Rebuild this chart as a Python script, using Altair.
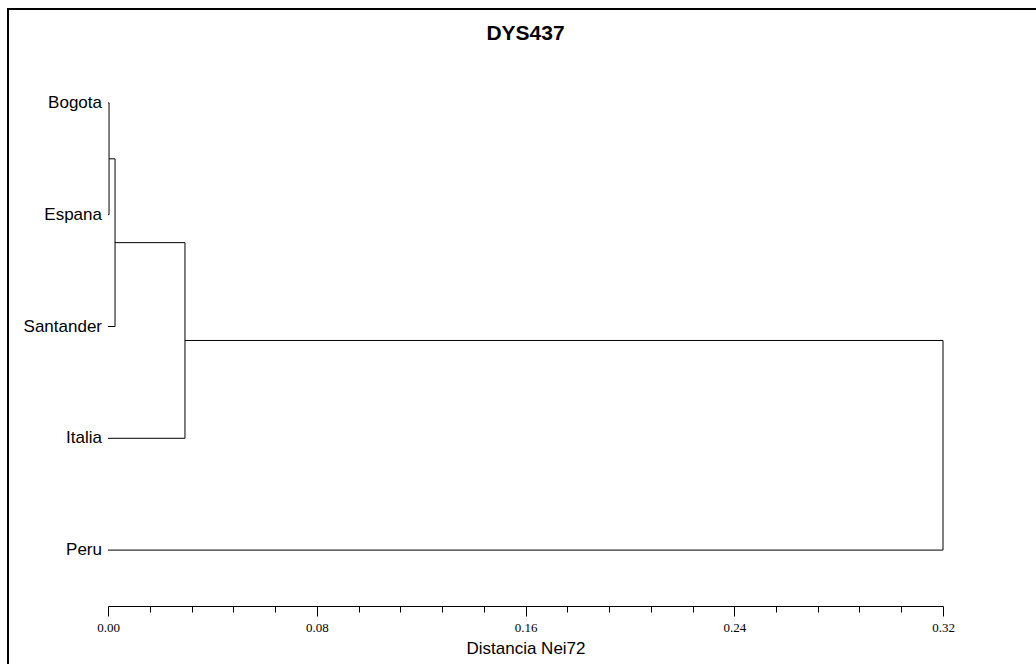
import altair as alt
import pandas as pd

# ---- data ----
title_text = "DYS437"
x_title = "Distancia Nei72"
leaves = ["Bogota", "Espana", "Santander", "Italia", "Peru"]
leaf_pos = [0, 1, 2, 3, 4]
# merges: (child a, child b, joining distance)
merge_a = ["Bogota", "N1", "N2", "N3"]
merge_b = ["Espana", "Santander", "Italia", "Peru"]
merge_h = [0.0004, 0.0027, 0.0295, 0.32]
major_ticks = [0.0, 0.08, 0.16, 0.24, 0.32]
tick_values = [round(i * 0.016, 3) for i in range(21)]

# ---- build dendrogram segments ----
node_y = {n: p for n, p in zip(leaves, leaf_pos)}
node_h = {n: 0.0 for n in leaves}
segs = []
for i, (a, b, h) in enumerate(zip(merge_a, merge_b, merge_h)):
    for c in (a, b):
        segs.append({"x": node_h[c], "x2": h, "y": node_y[c], "y2": node_y[c]})
    segs.append({"x": h, "x2": h, "y": node_y[a], "y2": node_y[b]})
    name = f"N{i+1}"
    node_y[name] = (node_y[a] + node_y[b]) / 2
    node_h[name] = h
seg_df = pd.DataFrame(segs)
leaf_df = pd.DataFrame({"name": leaves, "pos": leaf_pos, "x0": [0.0] * len(leaves)})

xscale = alt.Scale(domain=[0, 0.32], nice=False, zero=False)
yscale = alt.Scale(domain=[-0.5, 4.5], reverse=True, nice=False, zero=False)

is_major = "abs(round(datum.value/0.08)*0.08 - datum.value) < 0.000001"

xaxis = alt.Axis(
    values=tick_values,
    labelExpr=f"({is_major}) ? format(datum.value, '.2f') : ''",
    tickSize={"condition": {"test": is_major, "value": 10}, "value": 6},
    title=x_title,
    titleFont="Liberation Sans",
    titleFontSize=17,
    titleFontWeight="normal",
    titleColor="black",
    titlePadding=6,
    labelFont="Liberation Serif",
    labelFontSize=13,
    labelColor="black",
    labelPadding=5,
    labelFlush=False,
    labelOverlap=False,
    domainColor="black",
    tickColor="black",
    domainWidth=1,
    tickWidth=1,
    grid=False,
)

lines = alt.Chart(seg_df).mark_rule(color="black", strokeWidth=1).encode(
    x=alt.X("x:Q", scale=xscale, axis=xaxis),
    x2="x2:Q",
    y=alt.Y("y:Q", scale=yscale, axis=None),
    y2="y2:Q",
)

labels = alt.Chart(leaf_df).mark_text(
    align="right", baseline="middle", dx=-6, fontSize=17,
    font="Liberation Sans", color="black"
).encode(
    x=alt.X("x0:Q", scale=xscale),
    y=alt.Y("pos:Q", scale=yscale),
    text="name:N",
)

title_df = pd.DataFrame({"t": [title_text]})
title = alt.Chart(title_df).mark_text(
    align="center", baseline="alphabetic", fontSize=21, fontWeight="bold",
    font="Liberation Sans", color="black"
).encode(
    x=alt.value(417.5), y=alt.value(-7), text="t:N"
)

frame_df = pd.DataFrame({"k": [0]})
frame_top = alt.Chart(frame_df).mark_rule(color="black", strokeWidth=2).encode(
    x=alt.value(-100), x2=alt.value(1000), y=alt.value(-38)
)
frame_left = alt.Chart(frame_df).mark_rule(color="black", strokeWidth=2).encode(
    x=alt.value(-100), y=alt.value(-39), y2=alt.value(700)
)

chart = alt.layer(frame_top, frame_left, lines, labels, title).properties(
    width=835,
    height=559,
    autosize=alt.AutoSizeParams(type="none"),
    padding={"left": 108, "top": 47, "right": 93, "bottom": 58},
    background="white",
).configure_view(stroke=None)

chart.save("out.html", embed_options={"renderer": "svg", "actions": False})
